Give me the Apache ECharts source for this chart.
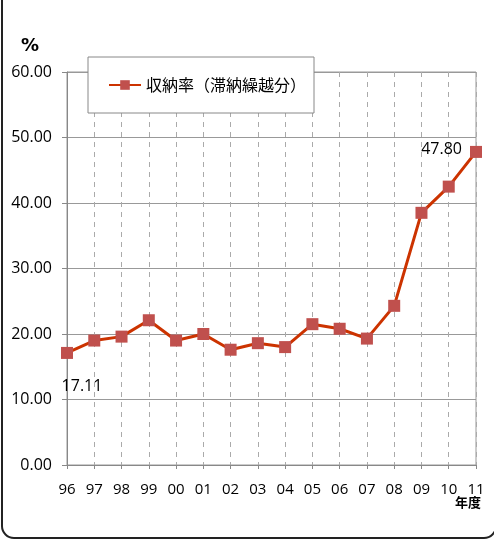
<!DOCTYPE html>
<html>
<head>
    <meta charset="utf-8">
    <title>収納率（滞納繰越分）</title>
    <script src="https://cdn.jsdelivr.net/npm/echarts@6/dist/echarts.min.js"></script>
    <style>
        html, body { margin: 0; padding: 0; background: #fff; }
    </style>
</head>
<body>
<div id="main" style="width: 494px;height:541px;"></div>

<script type="text/javascript">
    // 年度
    var nendo = ['96', '97', '98', '99', '00', '01', '02', '03', '04', '05', '06', '07', '08', '09', '10', '11'];
    // 収納率（滞納繰越分） %
    var shunouritsu = [17.11, 19.0, 19.6, 22.1, 19.0, 20.0, 17.6, 18.6, 18.0, 21.5, 20.8, 19.3, 24.3, 38.5, 42.5, 47.80];
    var yTicks = [0, 10, 20, 30, 40, 50, 60];

    var myChart = echarts.init(document.getElementById('main'));

    var font = '"Open Sans", "Noto Sans CJK JP", sans-serif';
    var jpFont = '"Noto Sans CJK JP", sans-serif';

    var seriesData = shunouritsu.map(function (v, i) {
        var d = { value: v };
        if (i == 0) {
            d.label = { show: true, position: 'bottom', distance: 20, offset: [15, 0], formatter: '17.11' };
        }
        if (i == shunouritsu.length - 1) {
            d.label = { show: true, position: 'left', distance: 8, offset: [0, -2], formatter: '47.80' };
        }
        return d;
    });

    myChart.setOption({
        animation: false,
        textStyle: { fontFamily: font },
        graphic: [{
            type: 'rect',
            shape: { x: 2, y: -20, width: 494, height: 558, r: 12 },
            style: { fill: null, stroke: '#222', lineWidth: 2 },
            silent: true
        }, {
            type: 'text',
            left: 455, top: 496,
            style: { text: '年度', fontSize: 13, fontWeight: 'bold', fontFamily: jpFont, fill: '#000' },
            silent: true
        }, {
            type: 'text',
            left: 21, top: 37,
            style: { text: '%', fontSize: 18, fontWeight: 'bold', fontFamily: '"DejaVu Sans", sans-serif', fill: '#000' },
            silent: true
        }],
        grid: {
            left: 67, top: 72, right: 18, bottom: 76,
            show: true, borderColor: '#999', borderWidth: 1
        },
        legend: {
            left: 88, top: 57,
            padding: [20, 8, 20, 20],
            backgroundColor: '#fff',
            borderColor: '#888', borderWidth: 1,
            itemWidth: 32, itemHeight: 12, itemGap: 4,
            textStyle: { fontSize: 16, color: '#000', fontFamily: jpFont, letterSpacing: 1 },
            data: ['収納率（滞納繰越分）']
        },
        xAxis: {
            type: 'category',
            data: nendo,
            boundaryGap: false,
            axisLine: { lineStyle: { color: '#888' } },
            axisTick: { show: true, length: 4, lineStyle: { color: '#888' } },
            axisLabel: { fontSize: 15, color: '#000', margin: 17 },
            splitLine: { show: true, lineStyle: { color: '#aaa', type: [5, 5] } }
        },
        yAxis: {
            type: 'value',
            min: yTicks[0], max: yTicks[yTicks.length - 1], interval: 10,
            axisLine: { show: true, lineStyle: { color: '#888' } },
            axisTick: { show: true, length: 5, lineStyle: { color: '#888' } },
            axisLabel: {
                fontSize: 16, color: '#000', margin: 15,
                formatter: function (v) { return v.toFixed(2); }
            },
            splitLine: { show: true, lineStyle: { color: '#999', type: 'solid' } }
        },
        series: [{
            name: '収納率（滞納繰越分）',
            type: 'line',
            data: seriesData,
            symbol: 'rect',
            symbolSize: 12,
            itemStyle: { color: '#c0504d' },
            lineStyle: { color: '#cc3300', width: 3 },
            label: { show: false, fontSize: 16, color: '#000' }
        }]
    });
</script>
</body>
</html>
